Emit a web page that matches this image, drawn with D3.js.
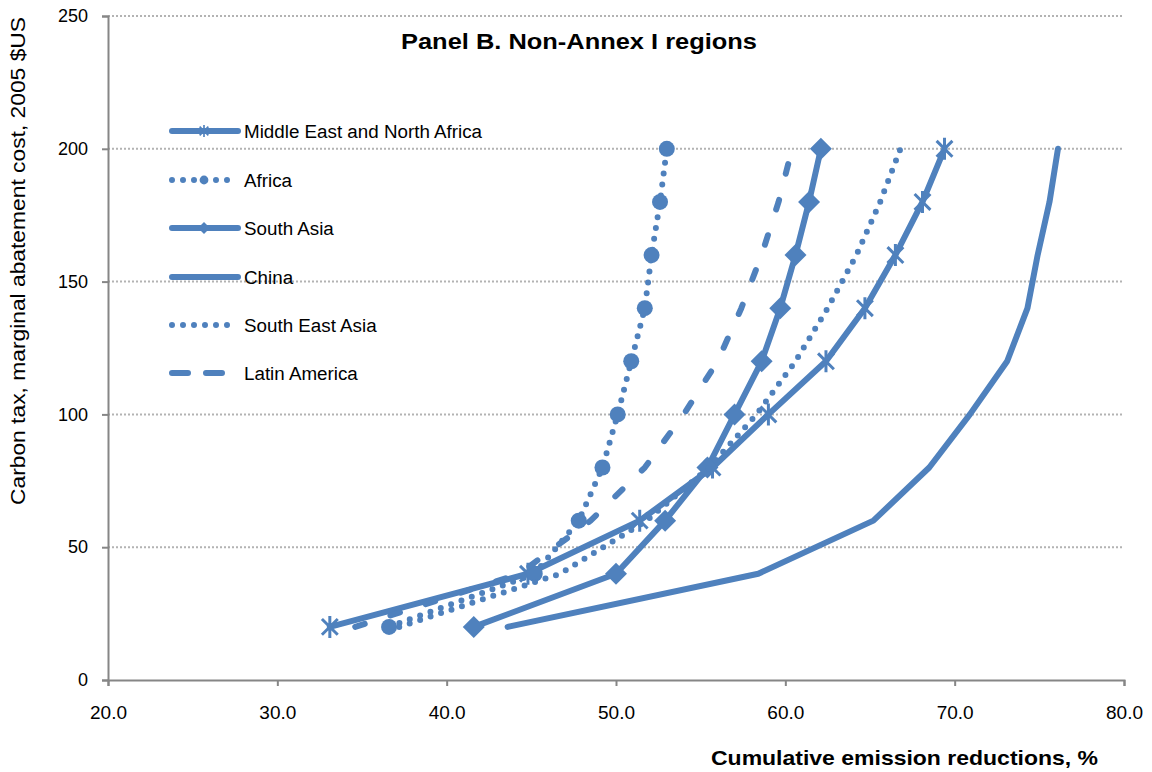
<!DOCTYPE html>
<html>
<head>
<meta charset="utf-8">
<script src="https://cdn.jsdelivr.net/npm/d3@7"></script>
<style>
  body { margin: 0; background: #fff; }
  text { font-family: "Liberation Sans", Arial, sans-serif; }
</style>
</head>
<body>
<div id="canvas"></div>
<script>
// carbon tax levels (y) and cumulative reductions per region (x)
const taxLevels = [20, 40, 60, 80, 100, 120, 140, 160, 180, 200];
const menaValues = [33.1, 44.8, 51.4, 55.7, 59.0, 62.4, 64.7, 66.5, 68.1, 69.4];
const africaValues = [36.6, 45.2, 47.8, 49.2, 50.1, 50.9, 51.7, 52.1, 52.6, 53.0];
const southAsiaValues = [41.6, 50.0, 52.9, 55.4, 57.0, 58.6, 59.7, 60.6, 61.4, 62.1];
const chinaValues = [43.6, 58.4, 65.2, 68.5, 70.9, 73.1, 74.3, 74.9, 75.6, 76.1];
const seAsiaValues = [37.2, 46.7, 51.8, 55.5, 58.3, 60.6, 62.5, 64.2, 65.6, 66.8];
const latAmValues = [34.6, 44.3, 48.5, 51.7, 54.0, 56.0, 57.4, 58.6, 59.6, 60.4];
const seriesNames = ["Middle East and North Africa", "Africa", "South Asia", "China", "South East Asia", "Latin America"];
const xTicks = [20, 30, 40, 50, 60, 70, 80];
const yTicks = [0, 50, 100, 150, 200, 250];

const color = "#4f81bd";
const width = 1152;
const height = 772;
const margin = { top: 16, left: 108, bottom: 92, right: 28 };
const iwidth = width - margin.left - margin.right;
const iheight = height - margin.top - margin.bottom;

const series = [
  { name: seriesNames[0], values: menaValues, dash: null, marker: "star" },
  { name: seriesNames[1], values: africaValues, dash: "0 11", marker: "circle" },
  { name: seriesNames[2], values: southAsiaValues, dash: null, marker: "diamond" },
  { name: seriesNames[3], values: chinaValues, dash: null, marker: null },
  { name: seriesNames[4], values: seAsiaValues, dash: "0 11", marker: null },
  { name: seriesNames[5], values: latAmValues, dash: "10 27", marker: null }
];

const svg = d3.select("#canvas").append("svg")
  .attr("width", width)
  .attr("height", height);

const g = svg.append("g").attr("transform", `translate(${margin.left},${margin.top})`);

const x = d3.scaleLinear().domain([20, 80]).range([0, iwidth]);
const y = d3.scaleLinear().domain([0, 250]).range([iheight, 0]);

// gridlines
g.selectAll(".grid").data(yTicks.filter(d => d > 0)).enter().append("line")
  .attr("class", "grid")
  .attr("x1", 0).attr("x2", iwidth)
  .attr("y1", d => y(d)).attr("y2", d => y(d))
  .attr("stroke", "#b3b3b3")
  .attr("stroke-width", 2)
  .attr("stroke-dasharray", "2,2");

// axes
const xAxis = g.append("g")
  .attr("transform", `translate(0,${iheight})`)
  .call(d3.axisBottom(x).tickValues(xTicks).tickFormat(d3.format(".1f")).tickSize(6).tickPadding(20));
const yAxis = g.append("g")
  .call(d3.axisLeft(y).tickValues(yTicks).tickSize(6).tickPadding(14));
[xAxis, yAxis].forEach(a => {
  a.select(".domain").attr("stroke", "#868686").attr("stroke-width", 2);
  a.selectAll(".tick line").attr("stroke", "#868686").attr("stroke-width", 2);
  a.selectAll(".tick text").attr("font-size", 18).attr("fill", "#000")
    .style("font-family", "'Liberation Sans', Arial, sans-serif");
});
xAxis.selectAll(".tick text").attr("font-size", 19);

const line = d3.line()
  .x(d => x(d.x))
  .y(d => y(d.y));

const starPath = r => {
  const a = r * 0.72;
  return `M${-a},${-a}L${a},${a}M${-a},${a}L${a},${-a}M0,${-r}L0,${r}`;
};
const diamondPath = r => `M0,${-r}L${r},0L0,${r}L${-r},0Z`;

function drawMarker(sel, type, scale) {
  if (type === "star") {
    sel.append("path").attr("d", starPath(11 * scale))
      .attr("stroke", color).attr("stroke-width", 3 * scale).attr("fill", "none");
  } else if (type === "circle") {
    sel.append("circle").attr("r", 8 * scale).attr("fill", color);
  } else if (type === "diamond") {
    sel.append("path").attr("d", diamondPath(11 * scale)).attr("fill", color);
  }
}

series.forEach(s => {
  const pts = s.values.map((v, i) => ({ x: v, y: taxLevels[i] }));
  g.append("path")
    .datum(pts)
    .attr("d", line)
    .attr("fill", "none")
    .attr("stroke", color)
    .attr("stroke-width", 6)
    .attr("stroke-linecap", "round")
    .attr("stroke-linejoin", "round")
    .attr("stroke-dasharray", s.dash);
  if (s.marker) {
    g.selectAll(null).data(pts).enter().append("g")
      .attr("transform", d => `translate(${x(d.x)},${y(d.y)})`)
      .each(function () { drawMarker(d3.select(this), s.marker, 1); });
  }
});

// legend
const legendRows = [131, 180, 228, 277, 325, 373];
series.forEach((s, i) => {
  const lg = svg.append("g").attr("transform", `translate(0,${legendRows[i]})`);
  lg.append("line")
    .attr("x1", 172).attr("x2", 238)
    .attr("stroke", color)
    .attr("stroke-width", 6)
    .attr("stroke-linecap", "round")
    .attr("stroke-dasharray", s.dash === "10 27" ? "16 18" : s.dash);
  if (s.marker) {
    const m = lg.append("g").attr("transform", "translate(204,0)");
    drawMarker(m, s.marker, 0.55);
  }
  lg.append("text")
    .attr("x", 244).attr("y", 7)
    .attr("font-size", 18.8)
    .text(s.name);
});

// titles
svg.append("text")
  .attr("x", 401).attr("y", 49)
  .attr("font-size", 22)
  .attr("font-weight", "bold")
  .attr("textLength", 356)
  .attr("lengthAdjust", "spacingAndGlyphs")
  .text("Panel B. Non-Annex I regions");

svg.append("text")
  .attr("x", 711).attr("y", 765)
  .attr("font-size", 21)
  .attr("font-weight", "bold")
  .attr("textLength", 387)
  .attr("lengthAdjust", "spacingAndGlyphs")
  .text("Cumulative emission reductions, %");

svg.append("text")
  .attr("transform", "translate(25,505) rotate(-90)")
  .attr("font-size", 20)
  .attr("textLength", 488)
  .attr("lengthAdjust", "spacingAndGlyphs")
  .text("Carbon tax, marginal abatement cost, 2005 $US");
</script>
</body>
</html>
